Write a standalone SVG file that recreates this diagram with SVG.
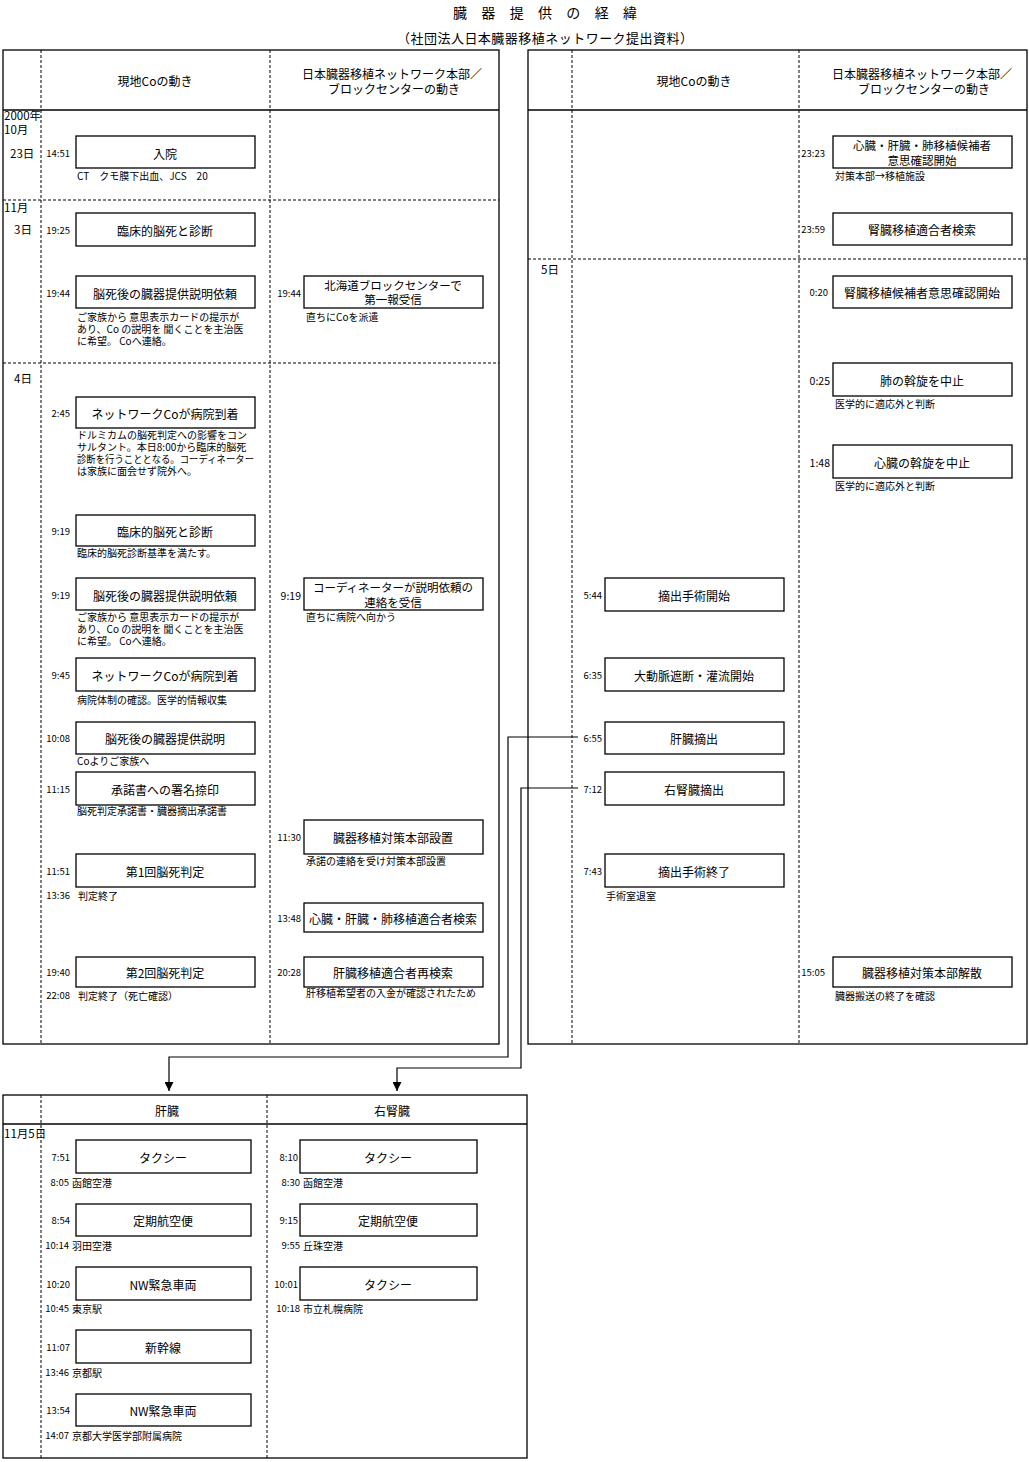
<svg xmlns="http://www.w3.org/2000/svg" width="1029" height="1462" viewBox="0 0 1029 1462">
<style>
text{font-family:"Noto Sans CJK JP","Noto Sans",sans-serif;fill:#000;dominant-baseline:central}
.frame{fill:none;stroke:#000;stroke-width:1.3}
.dash{stroke:#000;stroke-width:1;stroke-dasharray:3 2;fill:none}
.box{fill:#fff;stroke:#000;stroke-width:1.3}
.lb{font-size:12px;text-anchor:middle}
.l2{font-size:11.5px;text-anchor:middle}
.hd{font-size:12px;text-anchor:middle}
.tm{font-size:9.5px;text-anchor:end}
.tb{font-size:10.5px;text-anchor:end}
.an{font-size:10px}
.dt{font-size:11.5px}
.con{fill:none;stroke:#000;stroke-width:1.2}
</style>
<defs>
<marker id="arr" viewBox="0 0 10 10" refX="10" refY="5" markerWidth="9" markerHeight="9" markerUnits="userSpaceOnUse" orient="auto"><path d="M0,0 L10,5 L0,10 z" fill="#000"/></marker>
</defs>
<rect width="1029" height="1462" fill="#fff"/>
<g id="title">
<text x="453" y="12" font-size="14" textLength="184" lengthAdjust="spacing">臓 器 提 供 の 経 緯</text>
<text x="397" y="37" font-size="13" textLength="296" lengthAdjust="spacing">（社団法人日本臓器移植ネットワーク提出資料）</text>
</g>
<g id="panel-left">
<rect class="frame" x="3" y="50" width="496" height="994"/>
<line class="frame" x1="3" y1="110" x2="499" y2="110"/>
<line class="dash" x1="41" y1="50" x2="41" y2="1044"/>
<line class="dash" x1="270" y1="50" x2="270" y2="1044"/>
<line class="dash" x1="3" y1="200" x2="499" y2="200"/>
<line class="dash" x1="3" y1="363" x2="499" y2="363"/>
<text class="hd" x="155" y="80">現地Coの動き</text>
<text class="hd" x="392" y="73">日本臓器移植ネットワーク本部／</text>
<text class="hd" x="394" y="88">ブロックセンターの動き</text>
<text class="dt" x="4" y="115">2000年</text>
<text class="dt" x="4" y="129">10月</text>
<text class="dt" x="10" y="153">23日</text>
<text class="dt" x="4" y="207">11月</text>
<text class="dt" x="14" y="229">3日</text>
<text class="dt" x="14" y="378">4日</text>
</g>
<g id="panel-right">
<rect class="frame" x="528" y="50" width="499" height="994"/>
<line class="frame" x1="528" y1="110" x2="1027" y2="110"/>
<line class="dash" x1="572" y1="50" x2="572" y2="1044"/>
<line class="dash" x1="799" y1="50" x2="799" y2="1044"/>
<line class="dash" x1="528" y1="259" x2="1027" y2="259"/>
<text class="hd" x="694" y="80">現地Coの動き</text>
<text class="hd" x="922" y="73">日本臓器移植ネットワーク本部／</text>
<text class="hd" x="924" y="88">ブロックセンターの動き</text>
<text class="dt" x="541" y="269">5日</text>
</g>
<g id="panel-bottom">
<rect class="frame" x="3" y="1095" width="524" height="363"/>
<line class="frame" x1="3" y1="1124" x2="527" y2="1124"/>
<line class="dash" x1="41" y1="1095" x2="41" y2="1458"/>
<line class="dash" x1="267" y1="1095" x2="267" y2="1458"/>
<text class="hd" x="167" y="1110">肝臓</text>
<text class="hd" x="392" y="1110">右腎臓</text>
<text class="dt" x="4" y="1133">11月5日</text>
</g>
<g id="connectors">
<path class="con" d="M578,737 H508 V1057 H169 V1091" marker-end="url(#arr)"/>
<path class="con" d="M578,788 H521 V1068 H397 V1091" marker-end="url(#arr)"/>
</g>
<g id="n-l1"><rect class="box" x="76" y="136" width="179" height="32"/><text class="lb" x="165" y="153">入院</text><text class="tm" x="70" y="153">14:51</text><text class="an" x="77" y="175">CT　クモ膜下出血、JCS　20</text></g>
<g id="n-l2"><rect class="box" x="76" y="213" width="179" height="33"/><text class="lb" x="165" y="230">臨床的脳死と診断</text><text class="tm" x="70" y="230">19:25</text></g>
<g id="n-l3"><rect class="box" x="76" y="276" width="179" height="32"/><text class="lb" x="165" y="293">脳死後の臓器提供説明依頼</text><text class="tm" x="70" y="293">19:44</text><text class="an" x="77" y="316">ご家族から 意思表示カードの提示が</text><text class="an" x="77" y="328">あり、Co の説明を 聞くことを主治医</text><text class="an" x="77" y="340">に希望。 Coへ連絡。</text></g>
<g id="n-r3"><rect class="box" x="304" y="276" width="179" height="32"/><text class="l2" x="393" y="285">北海道ブロックセンターで</text><text class="l2" x="393" y="299">第一報受信</text><text class="tm" x="301" y="293">19:44</text><text class="an" x="306" y="316">直ちにCoを派遣</text></g>
<g id="n-l4"><rect class="box" x="76" y="397" width="179" height="31"/><text class="lb" x="165" y="413">ネットワークCoが病院到着</text><text class="tm" x="70" y="413">2:45</text><text class="an" x="77" y="434">ドルミカムの脳死判定への影響をコン</text><text class="an" x="77" y="446">サルタント。本日8:00から臨床的脳死</text><text class="an" x="77" y="458" textLength="177" lengthAdjust="spacingAndGlyphs">診断を行うこととなる。コーディネーター</text><text class="an" x="77" y="470">は家族に面会せず院外へ。</text></g>
<g id="n-l5"><rect class="box" x="76" y="515" width="179" height="31"/><text class="lb" x="165" y="531">臨床的脳死と診断</text><text class="tm" x="70" y="531">9:19</text><text class="an" x="77" y="552">臨床的脳死診断基準を満たす。</text></g>
<g id="n-l6"><rect class="box" x="76" y="578" width="179" height="32"/><text class="lb" x="165" y="595">脳死後の臓器提供説明依頼</text><text class="tm" x="70" y="595">9:19</text><text class="an" x="77" y="616">ご家族から 意思表示カードの提示が</text><text class="an" x="77" y="628">あり、Co の説明を 聞くことを主治医</text><text class="an" x="77" y="640">に希望。 Coへ連絡。</text></g>
<g id="n-r6"><rect class="box" x="304" y="578" width="179" height="32"/><text class="l2" x="393" y="587">コーディネーターが説明依頼の</text><text class="l2" x="393" y="602">連絡を受信</text><text class="tb" x="301" y="595">9:19</text><text class="an" x="306" y="616">直ちに病院へ向かう</text></g>
<g id="n-l7"><rect class="box" x="76" y="658" width="179" height="33"/><text class="lb" x="165" y="675">ネットワークCoが病院到着</text><text class="tm" x="70" y="675">9:45</text><text class="an" x="77" y="699">病院体制の確認。医学的情報収集</text></g>
<g id="n-l8"><rect class="box" x="76" y="722" width="179" height="32"/><text class="lb" x="165" y="738">脳死後の臓器提供説明</text><text class="tm" x="70" y="738">10:08</text><text class="an" x="77" y="760">Coよりご家族へ</text></g>
<g id="n-l9"><rect class="box" x="76" y="772" width="179" height="33"/><text class="lb" x="165" y="789">承諾書への署名捺印</text><text class="tm" x="70" y="789">11:15</text><text class="an" x="77" y="810">脳死判定承諾書・臓器摘出承諾書</text></g>
<g id="n-r9"><rect class="box" x="304" y="820" width="179" height="34"/><text class="lb" x="393" y="837">臓器移植対策本部設置</text><text class="tm" x="301" y="837">11:30</text><text class="an" x="306" y="860">承諾の連絡を受け対策本部設置</text></g>
<g id="n-l10"><rect class="box" x="76" y="854" width="179" height="33"/><text class="lb" x="165" y="871">第1回脳死判定</text><text class="tm" x="70" y="871">11:51</text><text class="tm" x="70" y="895">13:36</text><text class="an" x="78" y="895">判定終了</text></g>
<g id="n-r10"><rect class="box" x="304" y="903" width="179" height="29"/><text class="lb" x="393" y="918">心臓・肝臓・肺移植適合者検索</text><text class="tm" x="301" y="918">13:48</text></g>
<g id="n-l11"><rect class="box" x="76" y="957" width="179" height="30"/><text class="lb" x="165" y="972">第2回脳死判定</text><text class="tm" x="70" y="972">19:40</text><text class="tm" x="70" y="995">22:08</text><text class="an" x="78" y="995">判定終了（死亡確認）</text></g>
<g id="n-r11"><rect class="box" x="304" y="957" width="179" height="30"/><text class="lb" x="393" y="972">肝臓移植適合者再検索</text><text class="tm" x="301" y="972">20:28</text><text class="an" x="306" y="992">肝移植希望者の入金が確認されたため</text></g>
<g id="n-rr1"><rect class="box" x="833" y="136" width="179" height="32"/><text class="l2" x="922" y="145">心臓・肝臓・肺移植候補者</text><text class="l2" x="922" y="160">意思確認開始</text><text class="tm" x="825" y="153">23:23</text><text class="an" x="835" y="175">対策本部→移植施設</text></g>
<g id="n-rr2"><rect class="box" x="833" y="213" width="179" height="32"/><text class="lb" x="922" y="229">腎臓移植適合者検索</text><text class="tm" x="825" y="229">23:59</text></g>
<g id="n-rr3"><rect class="box" x="833" y="276" width="179" height="32"/><text class="lb" x="922" y="292">腎臓移植候補者意思確認開始</text><text class="tm" x="828" y="292">0:20</text></g>
<g id="n-rr4"><rect class="box" x="833" y="363" width="179" height="33"/><text class="lb" x="922" y="380">肺の斡旋を中止</text><text class="tb" x="830" y="380">0:25</text><text class="an" x="835" y="403">医学的に適応外と判断</text></g>
<g id="n-rr5"><rect class="box" x="833" y="445" width="179" height="33"/><text class="lb" x="922" y="462">心臓の斡旋を中止</text><text class="tb" x="830" y="462">1:48</text><text class="an" x="835" y="485">医学的に適応外と判断</text></g>
<g id="n-rm1"><rect class="box" x="605" y="578" width="179" height="33"/><text class="lb" x="694" y="595">摘出手術開始</text><text class="tm" x="602" y="595">5:44</text></g>
<g id="n-rm2"><rect class="box" x="605" y="658" width="179" height="33"/><text class="lb" x="694" y="675">大動脈遮断・灌流開始</text><text class="tm" x="602" y="675">6:35</text></g>
<g id="n-rm3"><rect class="box" x="605" y="722" width="179" height="32"/><text class="lb" x="694" y="738">肝臓摘出</text><text class="tm" x="602" y="738">6:55</text></g>
<g id="n-rm4"><rect class="box" x="605" y="772" width="179" height="33"/><text class="lb" x="694" y="789">右腎臓摘出</text><text class="tm" x="602" y="789">7:12</text></g>
<g id="n-rm5"><rect class="box" x="605" y="854" width="179" height="33"/><text class="lb" x="694" y="871">摘出手術終了</text><text class="tm" x="602" y="871">7:43</text><text class="an" x="606" y="895">手術室退室</text></g>
<g id="n-rr6"><rect class="box" x="833" y="957" width="179" height="30"/><text class="lb" x="922" y="972">臓器移植対策本部解散</text><text class="tm" x="825" y="972">15:05</text><text class="an" x="835" y="995">臓器搬送の終了を確認</text></g>
<g id="n-bl1"><rect class="box" x="76" y="1140" width="175" height="33"/><text class="lb" x="163" y="1157">タクシー</text><text class="tm" x="70" y="1157">7:51</text><text class="tm" x="69" y="1182">8:05</text><text class="an" x="72" y="1182">函館空港</text></g>
<g id="n-bl2"><rect class="box" x="76" y="1204" width="175" height="32"/><text class="lb" x="163" y="1220">定期航空便</text><text class="tm" x="70" y="1220">8:54</text><text class="tm" x="69" y="1245">10:14</text><text class="an" x="72" y="1245">羽田空港</text></g>
<g id="n-bl3"><rect class="box" x="76" y="1267" width="175" height="33"/><text class="lb" x="163" y="1284">NW緊急車両</text><text class="tm" x="70" y="1284">10:20</text><text class="tm" x="69" y="1308">10:45</text><text class="an" x="72" y="1308">東京駅</text></g>
<g id="n-bl4"><rect class="box" x="76" y="1330" width="175" height="33"/><text class="lb" x="163" y="1347">新幹線</text><text class="tm" x="70" y="1347">11:07</text><text class="tm" x="69" y="1372">13:46</text><text class="an" x="72" y="1372">京都駅</text></g>
<g id="n-bl5"><rect class="box" x="76" y="1394" width="175" height="32"/><text class="lb" x="163" y="1410">NW緊急車両</text><text class="tm" x="70" y="1410">13:54</text><text class="tm" x="69" y="1435">14:07</text><text class="an" x="72" y="1435">京都大学医学部附属病院</text></g>
<g id="n-br1"><rect class="box" x="300" y="1140" width="177" height="33"/><text class="lb" x="388" y="1157">タクシー</text><text class="tm" x="298" y="1157">8:10</text><text class="tm" x="300" y="1182">8:30</text><text class="an" x="303" y="1182">函館空港</text></g>
<g id="n-br2"><rect class="box" x="300" y="1204" width="177" height="32"/><text class="lb" x="388" y="1220">定期航空便</text><text class="tm" x="298" y="1220">9:15</text><text class="tm" x="300" y="1245">9:55</text><text class="an" x="303" y="1245">丘珠空港</text></g>
<g id="n-br3"><rect class="box" x="300" y="1267" width="177" height="33"/><text class="lb" x="388" y="1284">タクシー</text><text class="tm" x="298" y="1284">10:01</text><text class="tm" x="300" y="1308">10:18</text><text class="an" x="303" y="1308">市立札幌病院</text></g>
</svg>
